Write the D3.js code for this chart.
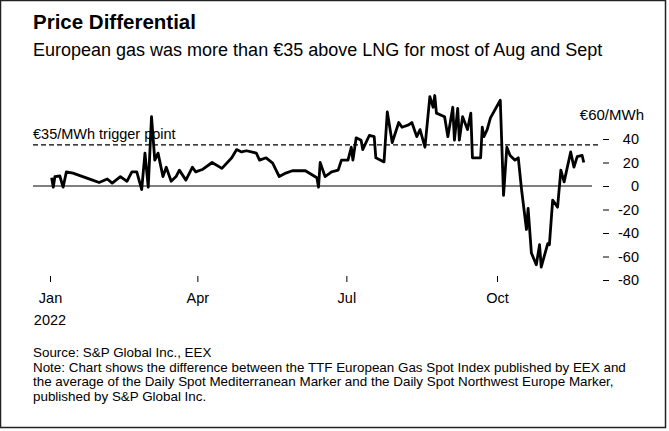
<!DOCTYPE html>
<html><head><meta charset="utf-8">
<script src="https://cdn.jsdelivr.net/npm/d3@7"></script>
<style>body{margin:0;background:#fff;font-family:"Liberation Sans",Arial,sans-serif}</style>
</head><body><svg id="c" width="669" height="431"></svg>
<script>
const days = [1,2,3,6,8,10,14,20,26,30,35,38,43,47,50,53,56,58,60,62,64,66,69,71,74,77,79,83,87,89,93,99,105,111,114,117,120,126,128,132,136,140,144,148,156,163,164,165,168,172,176,178,182,184,185,187,190,191,195,198,199,204,206,209,213,215,219,221,224,226,229,232,234,235,236,241,243,246,247,249,250,252,255,257,258,263,264,265,267,269,275,277,279,281,284,286,288,291,292,294,297,299,300,304,305,307,310,312,314,318,320,322,325,326];
const values = [7,-1,8,8.5,-1,12,11,8,5,3,6,2.5,8,4,12,12,-3,28,-1,59,22,28,8,16,4,8,13.5,5,16,12,14,20,15,24,31,29,30,28,22,24,19.5,8,11,13,13,7,-1,20,8,12,13.5,22,22,33,22,41,39,31,43,42,24,20.5,63,37,54,50,52,54,42,48,33,76,67,77,62,59,42,67,39,66,39,59,48,62,24,24,50,42,48,58,73,-8,33,26,22,24,-3,-37,-19,-57,-67,-50,-69,-49,-50,-12,-18,13.5,3.5,29,16,25,26,20];
const yTicks = [40,20,0,-20,-40,-60,-80];
const xTickDates = ["2022-01-01","2022-04-01","2022-07-01","2022-10-01"];
const xTickLabels = ["Jan","Apr","Jul","Oct"];
const trigger = 35;

const svg = d3.select("#c");
svg.append("rect").attr("x",0.5).attr("y",0.5).attr("width",665).attr("height",427).attr("fill","#fff").attr("stroke","#222").attr("stroke-width",1.5);
svg.append("text").attr("x",33).attr("y",29).attr("font-size",20.5).attr("font-weight","bold").text("Price Differential");
svg.append("text").attr("x",33).attr("y",56).attr("font-size",18).text("European gas was more than €35 above LNG for most of Aug and Sept");

const start = new Date(2022,0,1);
const data = days.map((d,i)=>({date:d3.timeDay.offset(start,d), v:values[i]}));
const x = d3.scaleTime().domain([new Date(2022,0,1), new Date(2022,9,1)]).range([50,497]);
const y = d3.scaleLinear().domain([0,-80]).range([186,280]);

svg.append("line").attr("x1",33).attr("x2",592).attr("y1",y(0)).attr("y2",y(0)).attr("stroke","#000").attr("stroke-width",1);
svg.append("line").attr("x1",33).attr("x2",598).attr("y1",y(trigger)).attr("y2",y(trigger)).attr("stroke","#000").attr("stroke-width",1.3).attr("stroke-dasharray","5,3");
svg.append("text").attr("x",33).attr("y",y(trigger)-6).attr("font-size",14.5).text("€35/MWh trigger point");

const ya = svg.append("g").attr("transform","translate(612,0)")
  .call(d3.axisLeft(y).tickValues(yTicks).tickSize(8).tickPadding(-30).tickFormat(d=>d));
ya.select(".domain").remove();
ya.selectAll("text").attr("text-anchor","end").attr("x",27).attr("font-size",14.5).attr("font-family","Liberation Sans, Arial").attr("fill","#000");
ya.selectAll("line").attr("x1",-9).attr("x2",-3);
svg.append("text").attr("x",644).attr("y",y(60)+4).attr("text-anchor","end").attr("font-size",15).text("€60/MWh");

const xa = svg.append("g").attr("transform","translate(0,276)")
  .call(d3.axisBottom(x).tickValues(xTickDates.map(d=>new Date(d+"T00:00"))).tickSize(6).tickPadding(11).tickFormat((d,i)=>xTickLabels[i]));
xa.select(".domain").remove();
xa.selectAll("text").attr("font-size",14.5).attr("font-family","Liberation Sans, Arial").attr("fill","#000");
svg.append("text").attr("x",x(new Date(2022,0,1))).attr("y",325).attr("text-anchor","middle").attr("font-size",14.5).text("2022");

svg.append("path").datum(data).attr("fill","none").attr("stroke","#000").attr("stroke-width",2.8).attr("stroke-linejoin","round")
  .attr("d",d3.line().x(d=>x(d.date)).y(d=>y(d.v)));

const notes=["Source: S&P Global Inc., EEX","Note: Chart shows the difference between the TTF European Gas Spot Index published by EEX and","the average of the Daily Spot Mediterranean Marker and the Daily Spot Northwest Europe Marker,","published by S&P Global Inc."];
notes.forEach((t,i)=>svg.append("text").attr("x",33).attr("y",357+i*14.5).attr("font-size",13.4).text(t));
</script></body></html>
